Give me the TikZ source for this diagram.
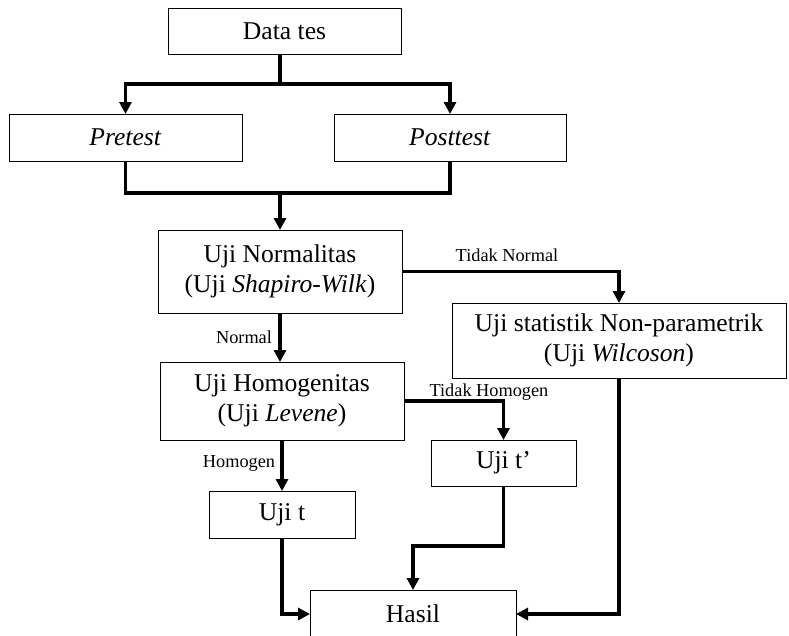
\documentclass[tikz,border=0pt]{standalone}
\usepackage{fontspec}
\setmainfont{Liberation Serif}
\usetikzlibrary{arrows.meta}
\tikzset{
	kotak/.style={draw, line width=1pt, inner sep=0pt, outer sep=0pt, align=center,
		font=\fontsize{25.6}{30}\selectfont},
	garis/.style={line width=3.3pt},
	panah/.style={line width=3.3pt, -{Triangle[length=12pt, width=12pt]}},
	ket/.style={inner sep=0pt, font=\fontsize{18.3}{22}\selectfont}
}

\begin{document}
\begin{tikzpicture}[x=1pt, y=-1pt]
		\useasboundingbox (0,0) rectangle (789,635);

		\node[kotak, minimum width=233pt, minimum height=46pt] (data) at (284.5, 31) {Data tes};
		\node[kotak, minimum width=233pt, minimum height=47pt] (pre) at (125.5, 137.5) {\textit{Pretest}};
		\node[kotak, minimum width=232pt, minimum height=47pt] (post) at (450, 137.5) {\textit{Posttest}};
		\node[kotak, minimum width=244pt, minimum height=83pt] (norm) at (280, 271.5) {Uji Normalitas\\(Uji \textit{Shapiro-Wilk})};
		\node[kotak, minimum width=334pt, minimum height=75pt] (nonpar) at (619, 340.5) {Uji statistik Non-parametrik\\(Uji \textit{Wilcoson})};
		\node[kotak, minimum width=244pt, minimum height=78pt] (homog) at (282, 401) {Uji Homogenitas\\(Uji \textit{Levene})};
		\node[kotak, minimum width=145pt, minimum height=46pt] (ujitp) at (503.5, 463) {Uji t’};
		\node[kotak, minimum width=146pt, minimum height=47pt] (ujit) at (282, 514.5) {Uji t};
		\node[kotak, minimum width=206pt, minimum height=48pt] (hasil) at (413, 614) {Hasil};

		\coordinate (bagi) at (280, 84);
		\coordinate (gabung) at (280, 193);

		\draw[garis] (data.south -| bagi) -- (bagi);
		\draw[panah] (bagi) -| (pre.north);
		\draw[panah] (bagi) -| (post.north);
		\draw[garis] (pre.south) |- (gabung) -| (post.south);
		\draw[panah] (gabung) -- (norm.north);

		\draw[panah] (norm.east) -| (nonpar.north);
		\draw[panah] (norm.south) -- (norm.south |- homog.north);
		\draw[panah] (homog.east) -| (ujitp.north);
		\draw[panah] (homog.south) -- (ujit.north);

		\draw[panah] (ujit.south) |- (hasil.west);
		\draw[panah] (ujitp.south) -- ++(0, 60) -| (hasil.north);
		\draw[panah] (nonpar.south) |- (hasil.east);

		\node[ket] (lblTN) at (507, 255) {Tidak Normal};
		\node[ket] (lblN) at (244, 337) {Normal};
		\node[ket] (lblTH) at (489, 392) {Tidak Homogen};
		\node[ket] (lblH) at (239, 463) {Homogen};
	\end{tikzpicture}
\end{document}
